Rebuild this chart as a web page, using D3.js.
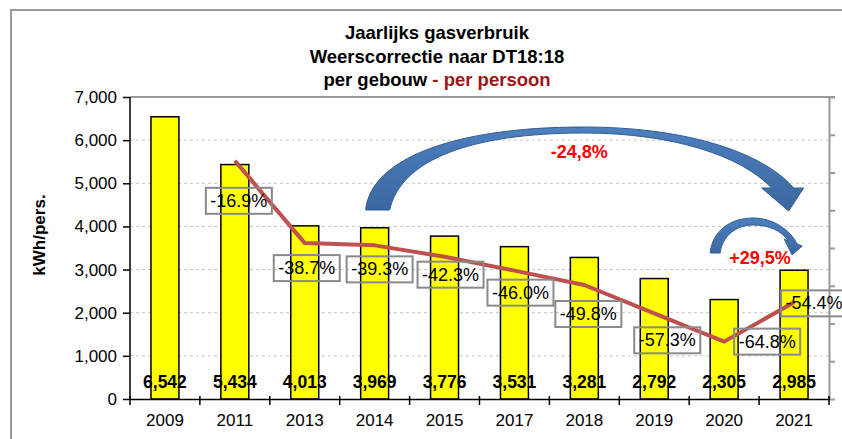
<!DOCTYPE html>
<html>
<head>
<meta charset="utf-8">
<script src="https://cdn.jsdelivr.net/npm/d3@7/dist/d3.min.js"></script>
<style>
body { margin: 0; background: #fff; }
svg { font-family: "Liberation Sans", Arial, sans-serif; }
.axis text { font-size: 17px; fill: #000; }
.grid line { stroke: #c4c4c4; stroke-dasharray: 3,3; }
</style>
</head>
<body>
<svg class="chart" width="842" height="439"></svg>
<script>
// data
var years = ["2009", "2011", "2013", "2014", "2015", "2017", "2018", "2019", "2020", "2021"];
var gasPerPerson = [6542, 5434, 4013, 3969, 3776, 3531, 3281, 2792, 2305, 2985];
var pctVs2009 = [null, -16.9, -38.7, -39.3, -42.3, -46.0, -49.8, -57.3, -64.8, -54.4];
var yTicks = [0, 1000, 2000, 3000, 4000, 5000, 6000, 7000];
var pctTicks = [-80, -70, -60, -50, -40, -30, -20, -10, 0];
var titleLines = ["Jaarlijks gasverbruik", "Weerscorrectie naar DT18:18"];
var callouts = ["-24,8%", "+29,5%"];

// hand placed label offsets (like the moved labels in the original sheet)
var pctNudge = [null, [4, 40], [2, 25], [5, 24], [6, 18], [6, 22], [4, 29], [13, 27], [43, 0], [20, 1]];

var svg = d3.select(".chart"),
	margin = {top: 97, right: 13, bottom: 40, left: 130},
	width = +svg.attr("width") - margin.left - margin.right,
	height = +svg.attr("height") - margin.top - margin.bottom;

// outer frame
svg.append("rect")
	.attr("x", 11).attr("y", 10)
	.attr("width", 860).attr("height", 460)
	.attr("fill", "none").attr("stroke", "#9a9a9a").attr("stroke-width", 2);

// title
var title = svg.append("text")
	.attr("text-anchor", "middle")
	.attr("font-weight", "bold")
	.attr("font-size", 18.5);
titleLines.forEach(function(t, i) {
	title.append("tspan").attr("x", 437).attr("y", 39 + i * 24).text(t);
});
var t3 = title.append("tspan").attr("x", 437).attr("y", 86);
t3.append("tspan").text("per gebouw ");
t3.append("tspan").attr("fill", "#a01515").text("- per persoon");

var g = svg.append("g").attr("transform", "translate(" + margin.left + "," + margin.top + ")");

var x = d3.scaleBand().domain(years).range([0, width]).padding(0);
var y = d3.scaleLinear().domain([0, 7000]).range([height, 0]);
var y2 = d3.scaleLinear().domain([-80, 0]).range([height, 0]);
var xc = function(yr) { return x(yr) + x.bandwidth() / 2; };

// gridlines
g.append("g").attr("class", "grid")
	.selectAll("line")
	.data(yTicks.filter(function(d) { return d > 0 && d < 7000; }))
	.enter().append("line")
	.attr("x1", 0).attr("x2", width)
	.attr("y1", function(d) { return y(d); })
	.attr("y2", function(d) { return y(d); });

// top border
g.append("line")
	.attr("x1", 0).attr("x2", width + 6)
	.attr("y1", 0).attr("y2", 0)
	.attr("stroke", "#999").attr("stroke-width", 2);

// right (secondary) axis, no labels
var rAxis = g.append("g")
	.attr("transform", "translate(" + width + ",0)")
	.call(d3.axisRight(y2).tickValues(pctTicks).tickSize(6).tickSizeOuter(0).tickFormat(""));
rAxis.selectAll("path, line").attr("stroke", "#999").attr("stroke-width", 2);

// bars
var barW = x.bandwidth() * 0.4;
g.selectAll(".bar")
	.data(gasPerPerson)
	.enter().append("rect")
	.attr("class", "bar")
	.attr("x", function(d, i) { return xc(years[i]) - barW / 2; })
	.attr("y", function(d) { return y(d); })
	.attr("width", barW)
	.attr("height", function(d) { return height - y(d); })
	.attr("fill", "#ffff00")
	.attr("stroke", "#000")
	.attr("stroke-width", 1.5);

// bar values at the foot of each bar
g.selectAll(".barVal")
	.data(gasPerPerson)
	.enter().append("text")
	.attr("class", "barVal")
	.attr("x", function(d, i) { return xc(years[i]); })
	.attr("y", height - 11)
	.attr("text-anchor", "middle")
	.attr("font-weight", "bold")
	.attr("font-size", 17.5)
	.text(d3.format(","));

// left axis
var lAxis = g.append("g")
	.attr("class", "axis")
	.call(d3.axisLeft(y).tickValues(yTicks).tickSize(7).tickPadding(6).tickSizeOuter(0).tickFormat(d3.format(",")));
lAxis.selectAll("path, line").attr("stroke", "#000").attr("stroke-width", 1.5);
lAxis.select(".domain").remove();
g.append("line")
	.attr("x1", 0).attr("x2", 0).attr("y1", 0).attr("y2", height)
	.attr("stroke", "#000").attr("stroke-width", 1.5);

// x axis
var xAxis = g.append("g")
	.attr("class", "axis")
	.attr("transform", "translate(0," + height + ")")
	.call(d3.axisBottom(x).tickSize(0).tickPadding(15).tickSizeOuter(0));
xAxis.select(".domain").attr("stroke", "#000").attr("stroke-width", 1.5);
xAxis.selectAll(".sep")
	.data(years.map(function(d) { return x(d); }).concat([width]))
	.enter().append("line")
	.attr("class", "sep")
	.attr("x1", function(d) { return d; }).attr("x2", function(d) { return d; })
	.attr("y1", -3).attr("y2", 6)
	.attr("stroke", "#000").attr("stroke-width", 1.5);

// y axis title
svg.append("text")
	.attr("transform", "translate(45,235) rotate(-90)")
	.attr("text-anchor", "middle")
	.attr("font-weight", "bold")
	.attr("font-size", 17)
	.text("kWh/pers.");

// per person line on the secondary axis
var pts = pctVs2009.map(function(d, i) { return {i: i, v: d}; }).filter(function(d) { return d.v !== null; });
g.append("path")
	.datum(pts)
	.attr("fill", "none")
	.attr("stroke", "#c0504d")
	.attr("stroke-width", 4)
	.attr("stroke-linejoin", "round")
	.attr("d", d3.line()
		.x(function(d) { return xc(years[d.i]); })
		.y(function(d) { return y2(d.v); }));

// percentage labels
var lab = g.selectAll(".pctLab")
	.data(pts)
	.enter().append("g")
	.attr("class", "pctLab")
	.attr("transform", function(d) {
		var n = pctNudge[d.i];
		return "translate(" + (xc(years[d.i]) + n[0]) + "," + (y2(d.v) + n[1]) + ")";
	});
lab.append("rect")
	.attr("x", -33).attr("y", -13)
	.attr("width", 66).attr("height", 26)
	.attr("fill", "none")
	.attr("stroke", "#8a8a8a")
	.attr("stroke-width", 2);
lab.append("text")
	.attr("text-anchor", "middle")
	.attr("y", 6)
	.attr("font-size", 18)
	.text(function(d) { return d.v.toFixed(1) + "%"; });

// curved arrows, anchored on the years they span
var grad = svg.append("defs").append("linearGradient")
	.attr("id", "arrowFill").attr("x1", 0).attr("y1", 0).attr("x2", 0).attr("y2", 1);
grad.append("stop").attr("offset", "0%").attr("stop-color", "#4d7fbf");
grad.append("stop").attr("offset", "100%").attr("stop-color", "#3a679f");

g.append("path")
	.attr("transform", "translate(" + xc("2014") + "," + y(7000) + ")")
	.attr("d", "M-9,113 C-4,63 76,30 209,30 C306,30 386,53 419,91 L429,91 L414,114 L387,91 L397,91 C366,58 296,36 209,36 C96,36 26,63 15,113 Z")
	.attr("fill", "url(#arrowFill)")
	.attr("stroke", "#335d92").attr("stroke-width", 1);

g.append("path")
	.attr("transform", "translate(" + xc("2020") + "," + y(7000) + ")")
	.attr("d", "M-14,156 C-12,135 5,121 29,121 C49,121 66,133 73,147 L78,149 L68,158 L60,142 L64,144 C58,134 45,128 29,128 C12,128 -2,139 -4,156 Z")
	.attr("fill", "url(#arrowFill)")
	.attr("stroke", "#335d92").attr("stroke-width", 1);

// red callouts
g.append("text")
	.attr("x", (xc("2014") + xc("2021")) / 2 - 5)
	.attr("y", y(7000) + 61)
	.attr("text-anchor", "middle")
	.attr("font-weight", "bold").attr("font-size", 18)
	.attr("fill", "#ff0000")
	.text(callouts[0]);
g.append("text")
	.attr("x", (xc("2020") + xc("2021")) / 2 + 1)
	.attr("y", y(gasPerPerson[9]) - 6)
	.attr("text-anchor", "middle")
	.attr("font-weight", "bold").attr("font-size", 18)
	.attr("fill", "#ff0000")
	.text(callouts[1]);
</script>
</body>
</html>
